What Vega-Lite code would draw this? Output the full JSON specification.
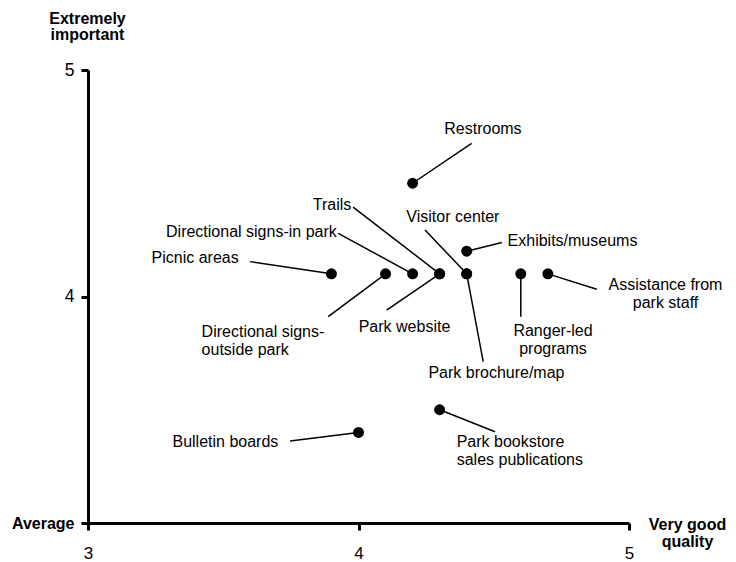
{
  "$schema": "https://vega.github.io/schema/vega-lite/v6.json",
  "width": 541,
  "height": 453,
  "autosize": {"type": "none"},
  "padding": {"left": 88, "top": 70, "right": 107, "bottom": 39},
  "background": "white",
  "config": {
    "view": {"stroke": null},
    "font": "Liberation Sans",
    "axis": {
      "grid": false, "labelFlush": false, "labelOverlap": false,
      "domainColor": "black", "domainWidth": 3, "tickColor": "black", "tickWidth": 3, "tickSize": 7,
      "labelColor": "black", "titleColor": "black", "titleFontSize": 16, "titleFontWeight": "bold",
      "titleAngle": 0, "titleAlign": "center", "titleBaseline": "alphabetic"
    }
  },
  "data": {
    "values": [
      {"item": "Restrooms", "quality": 4.2, "importance": 4.5, "lx": 4.46, "ly": 4.74, "sx": 4.418, "sy": 4.676},
      {"item": "Trails", "quality": 4.3, "importance": 4.1, "lx": 3.902, "ly": 4.404, "sx": 3.98, "sy": 4.395},
      {"item": "Visitor center", "quality": 4.4, "importance": 4.1, "lx": 4.349, "ly": 4.352, "sx": 4.246, "sy": 4.294},
      {"item": "Directional signs-in park", "quality": 4.2, "importance": 4.1, "lx": 3.604, "ly": 4.286, "sx": 3.925, "sy": 4.279},
      {"item": "Picnic areas", "quality": 3.9, "importance": 4.1, "lx": 3.396, "ly": 4.169, "sx": 3.599, "sy": 4.154},
      {"item": "Exhibits/museums", "quality": 4.4, "importance": 4.2, "lx": 4.791, "ly": 4.246, "sx": 4.53, "sy": 4.238},
      {"item": "Assistance from\npark staff", "quality": 4.7, "importance": 4.1, "lx": 5.135, "ly": 4.051, "sx": 4.881, "sy": 4.032},
      {"item": "Ranger-led\nprograms", "quality": 4.6, "importance": 4.1, "lx": 4.719, "ly": 3.849, "sx": 4.6, "sy": 3.911},
      {"item": "Park website", "quality": 4.3, "importance": 4.1, "lx": 4.17, "ly": 3.867, "sx": 4.104, "sy": 3.94},
      {"item": "Directional signs-\noutside park", "quality": 4.1, "importance": 4.1, "lx": 3.42, "ly": 3.845, "sx": 3.888, "sy": 3.911},
      {"item": "Park brochure/map", "quality": 4.4, "importance": 4.1, "lx": 4.51, "ly": 3.664, "sx": 4.461, "sy": 3.712},
      {"item": "Bulletin boards", "quality": 4.0, "importance": 3.4, "lx": 3.508, "ly": 3.356, "sx": 3.747, "sy": 3.362},
      {"item": "Park bookstore\nsales publications", "quality": 4.3, "importance": 3.5, "lx": 4.363, "ly": 3.359, "sx": 4.505, "sy": 3.403}
    ]
  },
  "layer": [
    {
      "mark": {"type": "rule", "color": "black", "strokeWidth": 1.5},
      "encoding": {
        "x": {"field": "sx", "type": "quantitative", "scale": {"domain": [3, 5], "nice": false, "zero": false},
          "axis": {"values": [3, 4, 5], "labelExpr": "format(datum.value, 'd')", "labelFontSize": 17, "labelBaseline": "alphabetic", "labelPadding": 28,
            "title": ["Very good", "quality"], "titleX": 599, "titleY": 6, "titleLineHeight": 17.7}},
        "y": {"field": "sy", "type": "quantitative", "scale": {"domain": [3, 5], "nice": false, "zero": false},
          "axis": {"values": [3, 4, 5], "labelExpr": "datum.value == 3 ? 'Average' : format(datum.value, 'd')",
            "labelFontWeight": {"condition": {"test": "datum.value == 3", "value": "bold"}, "value": "normal"},
            "labelFontSize": {"condition": {"test": "datum.value == 3", "value": 16}, "value": 17.5},
            "labelPadding": 7, "title": ["Extremely", "important"], "titleX": -1, "titleY": -46.7, "titleLineHeight": 16}},
        "x2": {"field": "quality"},
        "y2": {"field": "importance"}
      }
    },
    {
      "mark": {"type": "circle", "color": "black", "opacity": 1, "size": 120},
      "encoding": {
        "x": {"field": "quality", "type": "quantitative",
          "axis": {"values": [3, 4, 5], "labelExpr": "format(datum.value, 'd')", "labelFontSize": 17, "labelBaseline": "alphabetic", "labelPadding": 28,
            "title": ["Very good", "quality"], "titleX": 599, "titleY": 6, "titleLineHeight": 17.7}},
        "y": {"field": "importance", "type": "quantitative",
          "axis": {"values": [3, 4, 5], "labelExpr": "datum.value == 3 ? 'Average' : format(datum.value, 'd')",
            "labelFontWeight": {"condition": {"test": "datum.value == 3", "value": "bold"}, "value": "normal"},
            "labelFontSize": {"condition": {"test": "datum.value == 3", "value": 16}, "value": 17.5},
            "labelPadding": 7, "title": ["Extremely", "important"], "titleX": -1, "titleY": -46.7, "titleLineHeight": 16}}
      }
    },
    {
      "transform": [{"filter": "indexof(datum.item, 'outside') < 0 && indexof(datum.item, 'bookstore') < 0"}],
      "mark": {"type": "text", "color": "black", "fontSize": 16, "align": "center", "baseline": "middle", "lineBreak": "\n", "lineHeight": 18.3},
      "encoding": {
        "x": {"field": "lx", "type": "quantitative",
          "axis": {"values": [3, 4, 5], "labelExpr": "format(datum.value, 'd')", "labelFontSize": 17, "labelBaseline": "alphabetic", "labelPadding": 28,
            "title": ["Very good", "quality"], "titleX": 599, "titleY": 6, "titleLineHeight": 17.7}},
        "y": {"field": "ly", "type": "quantitative",
          "axis": {"values": [3, 4, 5], "labelExpr": "datum.value == 3 ? 'Average' : format(datum.value, 'd')",
            "labelFontWeight": {"condition": {"test": "datum.value == 3", "value": "bold"}, "value": "normal"},
            "labelFontSize": {"condition": {"test": "datum.value == 3", "value": 16}, "value": 17.5},
            "labelPadding": 7, "title": ["Extremely", "important"], "titleX": -1, "titleY": -46.7, "titleLineHeight": 16}},
        "text": {"field": "item"}
      }
    },
    {
      "transform": [{"filter": "indexof(datum.item, 'outside') >= 0 || indexof(datum.item, 'bookstore') >= 0"}],
      "mark": {"type": "text", "color": "black", "fontSize": 16, "align": "left", "baseline": "middle", "lineBreak": "\n", "lineHeight": 18.3},
      "encoding": {
        "x": {"field": "lx", "type": "quantitative",
          "axis": {"values": [3, 4, 5], "labelExpr": "format(datum.value, 'd')", "labelFontSize": 17, "labelBaseline": "alphabetic", "labelPadding": 28,
            "title": ["Very good", "quality"], "titleX": 599, "titleY": 6, "titleLineHeight": 17.7}},
        "y": {"field": "ly", "type": "quantitative",
          "axis": {"values": [3, 4, 5], "labelExpr": "datum.value == 3 ? 'Average' : format(datum.value, 'd')",
            "labelFontWeight": {"condition": {"test": "datum.value == 3", "value": "bold"}, "value": "normal"},
            "labelFontSize": {"condition": {"test": "datum.value == 3", "value": 16}, "value": 17.5},
            "labelPadding": 7, "title": ["Extremely", "important"], "titleX": -1, "titleY": -46.7, "titleLineHeight": 16}},
        "text": {"field": "item"}
      }
    }
  ]
}
